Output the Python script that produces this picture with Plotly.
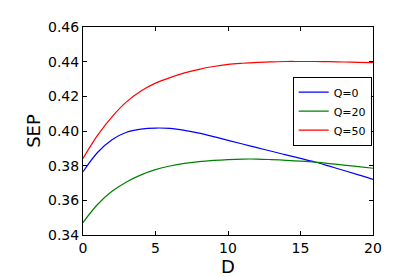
import plotly.graph_objects as go

D = list(range(0, 21))
sep_q0 = [0.3765, 0.3876, 0.3950, 0.3993, 0.4011, 0.4017, 0.4015, 0.4004, 0.3988, 0.3968,
          0.3946, 0.3925, 0.3904, 0.3883, 0.3862, 0.3842, 0.3821, 0.3797, 0.3772, 0.3747, 0.3721]
sep_q20 = [0.3472, 0.3576, 0.3652, 0.3706, 0.3747, 0.3777, 0.3798, 0.3813, 0.3823, 0.3830,
           0.3835, 0.3838, 0.3838, 0.3835, 0.3831, 0.3826, 0.3820, 0.3812, 0.3803, 0.3794, 0.3785]
sep_q50 = [0.3842, 0.3975, 0.4082, 0.4168, 0.4231, 0.4276, 0.4308, 0.4335, 0.4356, 0.4372,
           0.4384, 0.4391, 0.4396, 0.4399, 0.4401, 0.4401, 0.4401, 0.4400, 0.4398, 0.4396, 0.4394]

series_names = ["Q=0", "Q=20", "Q=50"]
series_colors = ["#0000ff", "#008000", "#ff0000"]
x_ticks = [0, 5, 10, 15, 20]
y_ticks = [0.34, 0.36, 0.38, 0.40, 0.42, 0.44, 0.46]

fig = go.Figure()
for name, vals, col in zip(series_names, [sep_q0, sep_q20, sep_q50], series_colors):
    fig.add_trace(go.Scatter(x=D, y=vals, mode="lines", name=name,
                             line=dict(color=col, width=1.2, shape="spline", smoothing=1.0)))

font_family = "DejaVu Sans"
# page body has an 8px margin, so the figure is sized/offset to compensate
fig.update_layout(
    width=407, height=269,
    margin=dict(l=75, r=42, t=19, b=42),
    paper_bgcolor="white", plot_bgcolor="white",
    font=dict(family=font_family, color="black", size=14),
    showlegend=True,
    legend=dict(x=0.9955, y=0.761, xanchor="right", yanchor="top",
                bgcolor="white", bordercolor="black", borderwidth=1,
                font=dict(size=11, family=font_family), tracegroupgap=0,
                itemwidth=30),
    xaxis=dict(range=[0, 20], tickvals=x_ticks, ticktext=[str(t) for t in x_ticks],
               ticks="inside", ticklen=4, tickcolor="black", showline=True,
               linecolor="black", linewidth=1, mirror="ticks", showgrid=False,
               zeroline=False, tickfont=dict(size=14), automargin=False,
               title=dict(text="D", font=dict(size=18), standoff=4)),
    yaxis=dict(range=[0.34, 0.46], tickvals=y_ticks, ticktext=[f"{t:.2f}" for t in y_ticks],
               ticks="inside", ticklen=4, tickcolor="black", showline=True,
               linecolor="black", linewidth=1, mirror="ticks", showgrid=False,
               zeroline=False, tickfont=dict(size=14), automargin=False,
               title=dict(text="SEP", font=dict(size=18), standoff=2)),
)

fig.write_html("out.html")
